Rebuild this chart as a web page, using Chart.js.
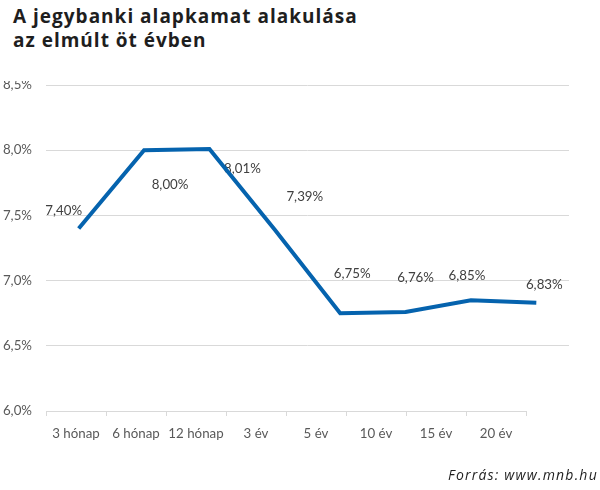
<!DOCTYPE html>
<html lang="hu">
<head>
<meta charset="utf-8">
<title>A jegybanki alapkamat alakulása</title>
<script src="https://cdn.jsdelivr.net/npm/chart.js@4.4.1/dist/chart.umd.min.js"></script>
<style>
    html, body { margin: 0; padding: 0; background: #fff; }
    #wrap { position: relative; width: 600px; height: 490px; overflow: hidden; background: #fff; }
    #chart-box { position: absolute; left: 0; top: 0; width: 600px; height: 490px; }
    #title {
        position: absolute; left: 0; top: 0; width: 600px; height: 81px; background: #fff;
        box-sizing: border-box; padding: 4px 0 0 13px;
        font-family: "Open Sans", sans-serif; font-weight: 700; font-size: 19px; line-height: 24px;
        letter-spacing: 1px; color: #1e1e1e;
    }
    #source {
        position: absolute; left: 448px; top: 465px; white-space: nowrap;
        font-family: "Open Sans", sans-serif; font-style: italic; font-size: 14px;
        letter-spacing: 1.2px; color: #1e1e1e;
    }
</style>
</head>
<body>
<div id="wrap">
    <div id="chart-box"><canvas id="rateChart"></canvas></div>
    <div id="title">A jegybanki alapkamat alakulása<br>az elmúlt öt évben</div>
    <div id="source">Forrás: www.mnb.hu</div>
</div>
<script>
// chart data
const categories = ['3 hónap', '6 hónap', '12 hónap', '3 év', '5 év', '10 év', '15 év', '20 év'];
const rates = [7.40, 8.00, 8.01, 7.39, 6.75, 6.76, 6.85, 6.83];
const yTicks = [6.0, 6.5, 7.0, 7.5, 8.0, 8.5];

// where each value label sits relative to its point (px)
const labelOffsets = [[-15, -18], [26, 35], [33, 20], [30, -33], [12, -39], [10, -34], [-4, -24], [8, -18]];

const fmt = (v, d) => v.toFixed(d).replace('.', ',') + '%';
const tickFont = { family: 'Lato', size: 13.3 };

// value labels, drawn under the line like in the original
const valueLabels = {
    id: 'valueLabels',
    beforeDatasetsDraw(chart) {
        const ctx = chart.ctx;
        const meta = chart.getDatasetMeta(0);
        ctx.save();
        ctx.font = '13.3px Lato';
        ctx.fillStyle = '#404040';
        ctx.textAlign = 'center';
        ctx.textBaseline = 'middle';
        meta.data.forEach((pt, i) => {
            ctx.fillText(fmt(rates[i], 2), pt.x + labelOffsets[i][0], pt.y + labelOffsets[i][1]);
        });
        ctx.restore();
    }
};

// the base line only runs under the category labels
const baseLine = {
    id: 'baseLine',
    beforeDatasetsDraw(chart) {
        const xl = chart.scales.xl, y = chart.scales.y;
        const yy = Math.round(y.getPixelForValue(yTicks[0])) + 0.5;
        const ctx = chart.ctx;
        ctx.save();
        ctx.strokeStyle = '#d9d9d9';
        ctx.lineWidth = 1;
        ctx.beginPath();
        ctx.moveTo(xl.getPixelForValue(0), yy);
        ctx.lineTo(xl.getPixelForValue(categories.length), yy);
        ctx.stroke();
        ctx.restore();
    }
};

new Chart(document.getElementById('rateChart'), {
    type: 'line',
    data: {
        labels: categories,
        datasets: [{
            data: rates,
            borderColor: '#0563ae',
            borderWidth: 4,
            pointRadius: 0,
            pointHoverRadius: 0,
            tension: 0,
            xAxisID: 'x',
            yAxisID: 'y'
        }]
    },
    options: {
        responsive: true,
        maintainAspectRatio: false,
        animation: false,
        layout: { padding: { top: 85, right: 31, left: 0, bottom: 0 } },
        plugins: { legend: { display: false }, tooltip: { enabled: false } },
        scales: {
            x: { type: 'category', offset: true, display: false },
            xl: {
                type: 'linear',
                position: 'bottom',
                bounds: 'data',
                min: 0,
                max: 523 / 60,
                afterBuildTicks: (s) => { s.ticks = categories.map((c, i) => ({ value: i + 0.5 })); },
                afterFit: (s) => { s.height = 79; },
                grid: { offset: true, drawOnChartArea: false, drawTicks: true, tickLength: 5, color: '#d9d9d9' },
                border: { display: false },
                ticks: {
                    autoSkip: false, maxRotation: 0, padding: 10,
                    color: '#595959', font: tickFont,
                    callback: (v, i) => categories[i]
                }
            },
            y: {
                min: yTicks[0],
                max: yTicks[yTicks.length - 1],
                afterBuildTicks: (s) => { s.ticks = yTicks.map(v => ({ value: v })); },
                afterFit: (s) => { s.width = 46; },
                grid: {
                    drawTicks: false,
                    color: (c) => (c.tick && c.tick.value === yTicks[0]) ? 'rgba(0,0,0,0)' : '#d9d9d9'
                },
                border: { display: false },
                ticks: { padding: 14, color: '#595959', font: tickFont, callback: (v) => fmt(v, 1) }
            }
        }
    },
    plugins: [baseLine, valueLabels]
});
</script>
</body>
</html>
